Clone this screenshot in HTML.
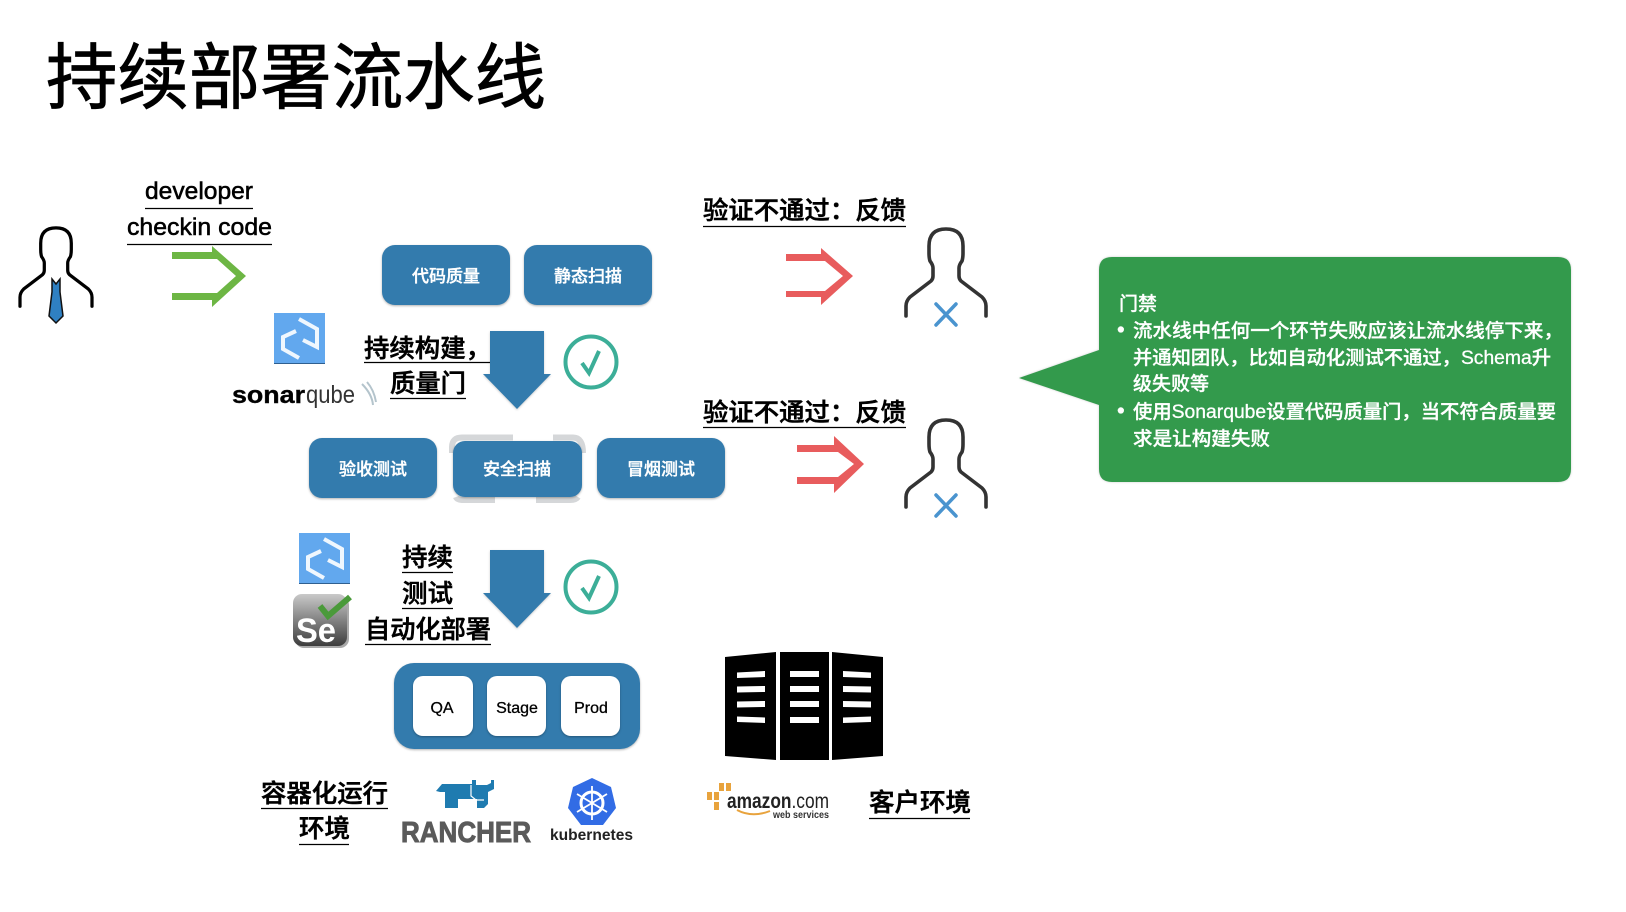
<!DOCTYPE html>
<html><head><meta charset="utf-8"><style>
html,body{margin:0;padding:0;background:#fff;width:1626px;height:912px;overflow:hidden}
svg{display:block}
text{font-family:"Liberation Sans","Noto Sans CJK SC",sans-serif;fill:#000}
.l{font-size:25px;font-weight:500;stroke:#000;stroke-width:.55px}
.w{font-size:17px;fill:#fff;font-weight:500;text-anchor:middle;stroke:#fff;stroke-width:.35px}
.g{font-size:19px;fill:#fff;font-weight:500;stroke:#fff;stroke-width:.3px}
.u{stroke:#000;stroke-width:1.2}
.b{fill:#337bad;filter:drop-shadow(0 1.5px 1px rgba(0,0,0,.3))}
</style></head><body>
<svg width="1626" height="912" viewBox="0 0 1626 912" xmlns="http://www.w3.org/2000/svg">
<defs>
<linearGradient id="se" x1="0" y1="0" x2="0" y2="1"><stop offset="0" stop-color="#c9c9c9"/><stop offset=".45" stop-color="#8a8a8a"/><stop offset="1" stop-color="#3d3d3d"/></linearGradient>
<path id="p" d="M-40 88V78Q-40 73-36 69L-15 53Q-13 51-13 48V40Q-13 37-16 33Q-17 30-17 25V18Q-17 1 0 1Q17 1 17 18V25Q17 30 16 33Q13 37 13 40V48Q13 51 15 53L36 69Q40 73 40 78V88" fill="none" stroke-width="3.6" stroke-linecap="round" stroke-linejoin="round"/>
<g id="logo"><rect width="51" height="51" fill="#62a8ee"/><rect y="50" width="51" height="1" fill="#2f5f8f"/><path d="M25 6L43 16V34L29 27" fill="none" stroke="#fff" stroke-width="4" stroke-opacity=".9"/><path d="M22 18L9 24V36L25 45" fill="none" stroke="#fff" stroke-width="4" stroke-opacity=".9"/></g>
<g id="dn"><path d="M490 0H544V43H551L517 78L483 43H490Z" fill="#337bad" style="filter:drop-shadow(0 1px 1px rgba(0,0,0,.2))"/></g>
<g id="ck"><circle r="25.5" fill="none" stroke="#3cae98" stroke-width="4"/><path d="M-9 1L-2 11L8-11" fill="none" stroke="#3cae98" stroke-width="4"/></g>
</defs>

<text x="46" y="103" font-size="72" textLength="500" lengthAdjust="spacingAndGlyphs" stroke="#000" stroke-width=".8">持续部署流水线</text>

<!-- left person -->
<use href="#p" transform="translate(56,227) scale(.9)" stroke="#000"/>
<path d="M52 279L56 284L60 279L60 292L63 316L56 323L49 316L52 292Z" fill="#2f80c2" stroke="#111" stroke-width="1.5"/>

<text class="l" x="145" y="199" textLength="108" lengthAdjust="spacingAndGlyphs" style="font-size:24px">developer</text>
<line class="u" x1="145" x2="253" y1="208.500" y2="208.500"/>
<text class="l" x="127" y="235" textLength="145" lengthAdjust="spacingAndGlyphs" style="font-size:24px">checkin code</text>
<line class="u" x1="127" x2="272" y1="244.500" y2="244.500"/>

<path d="M172 252H212V246L246 276L212 307V300H172V293H217L236 276L217 259H172Z" fill="#6db644"/>

<!-- top boxes -->
<rect class="b" x="382" y="245" width="128" height="60" rx="13"/>
<rect class="b" x="524" y="245" width="128" height="60" rx="13"/>
<text class="w" x="446" y="282">代码质量</text>
<text class="w" x="588" y="282">静态扫描</text>

<use href="#logo" x="274" y="313"/>
<text x="232" y="403" font-size="24" font-weight="700" textLength="73" lengthAdjust="spacingAndGlyphs" stroke="#111" stroke-width=".4">sonar</text>
<text x="306" y="403" font-size="25" textLength="49" lengthAdjust="spacingAndGlyphs" style="fill:#333">qube</text>
<path d="M362 384Q372 394 373 405M367 382Q374 390 376 402" fill="none" stroke="#b4c4cc" stroke-width="2"/>

<text class="l" x="364" y="357" textLength="127" lengthAdjust="spacingAndGlyphs">持续构建&#xFF0C;</text>
<line class="u" x1="364" x2="491" y1="362.500" y2="362.500"/>
<text class="l" x="390" y="392" textLength="76" lengthAdjust="spacingAndGlyphs">质量门</text>
<line class="u" x1="390" x2="466" y1="398.500" y2="398.500"/>
<use href="#dn" y="331"/>
<use href="#ck" x="591" y="362"/>

<!-- second row -->
<rect class="b" x="309" y="438" width="128" height="60" rx="13"/>
<rect class="b" x="597" y="438" width="128" height="60" rx="13"/>
<path d="M452 453V447Q452 437.500 462 437.500H513M553 437.500H573Q583 437.500 583 453M456 497Q457 500 464 500H495M536 500H570Q576 500 578 497" fill="none" stroke="#d5d7d9" stroke-width="6"/>
<rect class="b" x="453" y="441" width="129" height="56" rx="12"/>
<text class="w" x="373" y="475">验收测试</text>
<text class="w" x="517" y="475">安全扫描</text>
<text class="w" x="661" y="475">冒烟测试</text>

<!-- red feedback -->
<text class="l" x="703" y="219" textLength="203" lengthAdjust="spacingAndGlyphs">验证不通过&#xFF1A;反馈</text>
<line class="u" x1="703" x2="906" y1="226.500" y2="226.500"/>
<text class="l" x="703" y="421" textLength="203" lengthAdjust="spacingAndGlyphs">验证不通过&#xFF1A;反馈</text>
<line class="u" x1="703" x2="906" y1="427.500" y2="427.500"/>
<path d="M786 254H821V248L853 276L821 305V297H786V291H825L843 276L825 261H786Z" fill="#e85c5d"/>
<path d="M797 445H834V436L864 464L834 493V484H797V477H838L854 464L838 452H797Z" fill="#e85c5d"/>
<use href="#p" transform="translate(946,228)" stroke="#333"/>
<use href="#p" transform="translate(946,419)" stroke="#333"/>
<path d="M936 304L956 325M956 304L936 325" stroke="#4a94cf" stroke-width="3.5" stroke-linecap="round"/>
<path d="M936 495L956 516M956 495L936 516" stroke="#4a94cf" stroke-width="3.5" stroke-linecap="round"/>

<!-- green callout -->
<path d="M1112 257H1558Q1571 257 1571 270V469Q1571 482 1558 482H1112Q1099 482 1099 469V405L1019 378L1099 350V270Q1099 257 1112 257Z" fill="#339a4c" style="filter:drop-shadow(0 0 1px rgba(0,0,0,.2))"/>
<text class="g" x="1119" y="310">门禁</text>
<text class="g" x="1117" y="337" style="font-size:22px">•</text>
<text class="g" x="1133" y="337" textLength="430" lengthAdjust="spacingAndGlyphs">流水线中任何一个环节失败应该让流水线停下来&#xFF0C;</text>
<text class="g" x="1133" y="364" textLength="418" lengthAdjust="spacingAndGlyphs">并通知团队&#xFF0C;比如自动化测试不通过&#xFF0C;Schema升</text>
<text class="g" x="1133" y="390">级失败等</text>
<text class="g" x="1117" y="418" style="font-size:22px">•</text>
<text class="g" x="1133" y="418" textLength="423" lengthAdjust="spacingAndGlyphs">使用Sonarqube设置代码质量门&#xFF0C;当不符合质量要</text>
<text class="g" x="1133" y="445" textLength="137" lengthAdjust="spacingAndGlyphs">求是让构建失败</text>

<!-- third block -->
<use href="#logo" x="299" y="533"/>
<rect x="295" y="596" width="54" height="52" rx="9" fill="#aaa"/>
<rect x="293" y="594" width="54" height="52" rx="9" fill="url(#se)"/>
<text x="296" y="642" font-size="34" font-weight="700" textLength="40" lengthAdjust="spacingAndGlyphs" style="fill:#fff">Se</text>
<path d="M320 606L328 616L350 597" fill="none" stroke="#4a9a3a" stroke-width="6"/>

<text class="l" x="402" y="566" textLength="51" lengthAdjust="spacingAndGlyphs">持续</text>
<line class="u" x1="402" x2="453" y1="572.500" y2="572.500"/>
<text class="l" x="402" y="602" textLength="51" lengthAdjust="spacingAndGlyphs">测试</text>
<line class="u" x1="402" x2="453" y1="608.500" y2="608.500"/>
<text class="l" x="365" y="638" textLength="126" lengthAdjust="spacingAndGlyphs">自动化部署</text>
<line class="u" x1="365" x2="491" y1="644.500" y2="644.500"/>
<use href="#dn" y="550"/>
<use href="#ck" x="591" y="587"/>

<rect class="b" x="394" y="663" width="246" height="86" rx="20"/>
<g style="filter:drop-shadow(0 1px 1px rgba(0,0,0,.3))"><rect x="413" y="676" width="60" height="60" rx="10" fill="#fff"/><rect x="487" y="676" width="59" height="60" rx="10" fill="#fff"/><rect x="561" y="676" width="59" height="60" rx="10" fill="#fff"/></g>
<g font-size="16" font-weight="500" text-anchor="middle" stroke="#000" stroke-width=".3"><text x="442" y="713">QA</text><text x="517" y="713">Stage</text><text x="591" y="713">Prod</text></g>

<!-- server -->
<path d="M725 657L776 652V760L725 756ZM780 652H829V760H780ZM832 652L883 657V756L832 760Z" fill="#000"/>
<g fill="#fff"><path d="M737 672.500L765 671V677L737 678ZM737 686.500L765 686V692L737 692.500ZM737 701.500L765 701V707L737 707.500ZM737 716.500L765 717.500V723L737 722Z"/>
<rect x="790" y="671" width="29" height="6"/><rect x="790" y="686" width="29" height="6"/><rect x="790" y="701" width="29" height="6"/><rect x="790" y="717" width="29" height="6"/>
<path d="M843 671L871 672.500V678L843 677ZM843 686L871 686.500V692.500L843 692ZM843 701L871 701.500V707.500L843 707ZM843 717.500L871 716.500V722L843 723Z"/></g>

<!-- bottom labels -->
<text class="l" x="261" y="802" textLength="127" lengthAdjust="spacingAndGlyphs">容器化运行</text>
<line class="u" x1="261" x2="388" y1="808.500" y2="808.500"/>
<text class="l" x="299" y="837" textLength="51" lengthAdjust="spacingAndGlyphs">环境</text>
<line class="u" x1="299" x2="349" y1="844.500" y2="844.500"/>

<!-- rancher -->
<path d="M436 791L442 784H472V780H476V785H483L487 785L491 783V780H494V789L488 792V804L484 808H477V799H458V808H445V792H440Z" fill="#1f7bb0"/>
<path d="M471 785V796L476 800H484" fill="none" stroke="#fff" stroke-width="1.200"/>
<text x="401" y="842" font-size="29" font-weight="700" textLength="130" lengthAdjust="spacingAndGlyphs" stroke="#5a5a5a" stroke-width=".9" style="fill:#5a5a5a">RANCHER</text>

<!-- k8s -->
<path d="M592 778L611 787L616 808L603 825H581L568 808L573 787Z" fill="#326ce5"/>
<g fill="none" stroke="#fff"><circle cx="592" cy="803" r="11" stroke-width="3"/><path d="M592 786V820M577 794L607 812M607 794L577 812" stroke-width="1.800"/></g>
<text x="550" y="840" font-size="16" font-weight="700" textLength="83" lengthAdjust="spacingAndGlyphs" style="fill:#222">kubernetes</text>

<!-- amazon -->
<g fill="#e8a33d"><rect x="707" y="792" width="5" height="8"/><rect x="714" y="792" width="5" height="8"/><rect x="719" y="783" width="5" height="8"/><rect x="726" y="783" width="5" height="8"/><rect x="714" y="802" width="5" height="8"/></g>
<text x="727" y="808" font-size="21" textLength="102" lengthAdjust="spacingAndGlyphs" style="fill:#222"><tspan font-weight="700">amazon</tspan>.com</text>
<path d="M737 810Q752 818 770 811" fill="none" stroke="#e8a33d" stroke-width="2"/>
<text x="773" y="818" font-size="10" font-weight="700" textLength="56" lengthAdjust="spacingAndGlyphs" style="fill:#333">web services</text>

<text class="l" x="869" y="811" textLength="102" lengthAdjust="spacingAndGlyphs">客户环境</text>
<line class="u" x1="869" x2="970" y1="818.500" y2="818.500"/>
</svg>
</body></html>
